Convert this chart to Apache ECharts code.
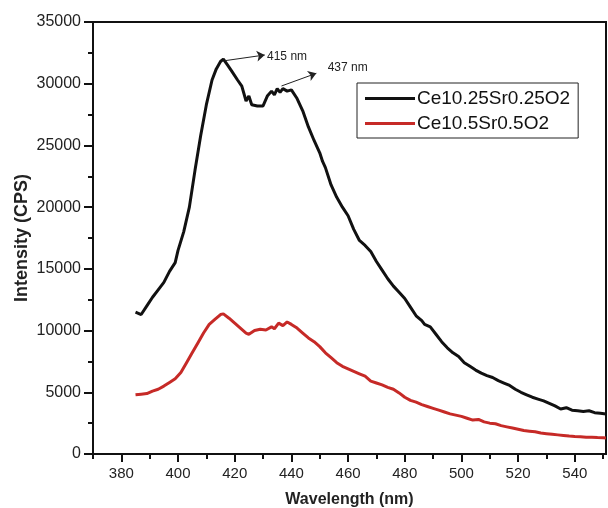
<!DOCTYPE html>
<html><head><meta charset="utf-8">
<script src="https://cdn.jsdelivr.net/npm/echarts@6/dist/echarts.min.js"></script>
<style>html,body{margin:0;padding:0;background:#fff}#c{width:608px;height:508px}</style>
</head><body><div id="c"></div>
<script>
const seriesNames = ['Ce10.25Sr0.25O2', 'Ce10.5Sr0.5O2'];
const blackX = [385,387,389,391,393,395,397,399,400,402,404,406,408,410,412,413.5,415,416,417.5,419,421,422.5,424,425,426,428,430,431.5,433,434,435,436,437,438.5,440,442,444,446,448,450,451,452,454,456,458,460,462,464,466,468,470,472,474,476,478,480,482,484,486,487,489,491,493,495,497,499,501,503,505,507,509,511,513,515,517,519,521,523,525,527,529,531,533,535,537,539,541,543,545,547,549,551];
const blackY = [11500,11300,12000,12700,13300,13900,14800,15500,16500,18000,20000,23000,25800,28300,30300,31200,31800,32000,31500,31000,30300,29800,28600,29000,28300,28200,28200,29000,29400,29100,29600,29300,29600,29400,29500,28800,27800,26500,25400,24400,23700,23200,21800,20800,20000,19300,18200,17300,16900,16400,15600,14900,14200,13600,13100,12600,11900,11200,10800,10500,10300,9700,9100,8600,8200,7900,7400,7100,6800,6550,6350,6200,5950,5750,5550,5250,5000,4800,4600,4450,4300,4100,3900,3650,3750,3550,3500,3450,3500,3350,3300,3250];
const redX = [385,387,389,391,393,395,397,399,401,403,405,407,409,411,413,415,416,418,420,422,424,425,427,429,431,433,434,435.5,437,438.5,440,442,444,446,448,450,452,454,456,458,460,462,464,466,468,470,472,474,476,478,480,482,484,486,488,490,492,494,496,498,500,502,504,506,508,510,512,514,516,518,520,522,524,526,528,530,532,534,536,538,540,542,544,546,548,550,551];
const redY = [4800,4850,4900,5100,5250,5500,5800,6100,6600,7400,8200,9000,9800,10500,10900,11300,11350,11000,10600,10200,9800,9700,10000,10100,10050,10300,10150,10600,10400,10700,10500,10200,9800,9400,9100,8700,8200,7800,7400,7100,6900,6700,6500,6300,5900,5750,5600,5400,5250,4950,4600,4350,4200,4000,3850,3700,3550,3400,3250,3150,3050,2900,2750,2800,2600,2500,2450,2300,2200,2100,2000,1900,1850,1800,1700,1650,1600,1550,1500,1450,1420,1400,1350,1350,1330,1320,1300];
const peakLabels = ['415 nm', '437 nm'];
const arrowFrom = [[416.5, 31865], [436.5, 29815]];
const arrowTo = [[430.6, 32327], [448.8, 30844]];
const labelAt = [[431.4, 32190], [452.8, 31270]];
const xTicks = [380,400,420,440,460,480,500,520,540];
const xMinorTicks = [370,390,410,430,450,470,490,510,530,550];

const zip = (a, b) => a.map((v, i) => [v, b[i]]);
const chart = echarts.init(document.getElementById('c'));
const font = 'Liberation Sans, Arial, sans-serif';
chart.setOption({
  animation: false,
  backgroundColor: '#fff',
  grid: { left: 93, right: 2, top: 22, bottom: 54, show: true, borderColor: '#111', borderWidth: 2, containLabel: false, outerBoundsMode: 'none' },
  legend: {
    orient: 'vertical', left: 357, top: 83, width: 224,
    data: seriesNames,
    icon: 'rect', itemWidth: 50, itemHeight: 3, itemGap: 6,
    padding: [6, 8, 5, 8],
    borderColor: '#222', borderWidth: 1,
    textStyle: { fontFamily: font, fontSize: 19, color: '#111', padding: [0, 0, 0, -3] }
  },
  xAxis: [{
    type: 'value', min: 370, max: 551, interval: 10,
    axisLine: { lineStyle: { color: '#111', width: 2 } },
    axisTick: { show: true, inside: false, length: 8, customValues: xTicks, lineStyle: { color: '#111', width: 2 } },
    splitLine: { show: false },
    axisLabel: {
      fontFamily: font, fontSize: 15, color: '#222', margin: 12, customValues: xTicks,
      formatter: v => String(v)
    },
    name: 'Wavelength (nm)', nameLocation: 'middle', nameGap: 38, nameMoveOverlap: false,
    nameTextStyle: { fontFamily: font, fontSize: 16, fontWeight: 'bold', color: '#222' }
  }, {
    type: 'value', min: 370, max: 551, interval: 10, position: 'bottom',
    axisLine: { show: false },
    axisTick: { show: true, inside: false, length: 5, customValues: xMinorTicks, lineStyle: { color: '#111', width: 2 } },
    axisLabel: { show: false },
    splitLine: { show: false }
  }],
  yAxis: {
    type: 'value', min: 0, max: 35000, interval: 5000,
    axisLine: { lineStyle: { color: '#111', width: 2 } },
    axisTick: { show: true, inside: false, length: 9, lineStyle: { color: '#111', width: 2 } },
    minorTick: { show: true, splitNumber: 2, length: 5, lineStyle: { color: '#111', width: 2 } },
    splitLine: { show: false },
    axisLabel: { fontFamily: font, fontSize: 16, color: '#222', margin: 12, formatter: v => String(v) },
    name: 'Intensity (CPS)', nameLocation: 'middle', nameGap: 62, nameRotate: 90, nameMoveOverlap: false,
    nameTextStyle: { fontFamily: font, fontSize: 18, fontWeight: 'bold', color: '#222' }
  },
  series: [
    {
      name: seriesNames[0], type: 'line', data: zip(blackX, blackY), showSymbol: false,
      lineStyle: { color: '#111', width: 3 }, itemStyle: { color: '#111' },
      markLine: {
        silent: true, symbol: ['none', 'arrow'], symbolSize: 8,
        lineStyle: { color: '#222', width: 1, type: 'solid' }, label: { show: false },
        data: arrowFrom.map((f, i) => [{ coord: f }, { coord: arrowTo[i] }])
      },
      markPoint: {
        silent: true, symbol: 'circle', symbolSize: 0,
        label: { show: true, position: 'right', distance: 0, fontFamily: font, fontSize: 12, color: '#222', formatter: p => p.name },
        data: labelAt.map((c, i) => ({ name: peakLabels[i], coord: c }))
      }
    },
    {
      name: seriesNames[1], type: 'line', data: zip(redX, redY), showSymbol: false,
      lineStyle: { color: '#c62a27', width: 3 }, itemStyle: { color: '#c62a27' }
    }
  ]
});
</script></body></html>
